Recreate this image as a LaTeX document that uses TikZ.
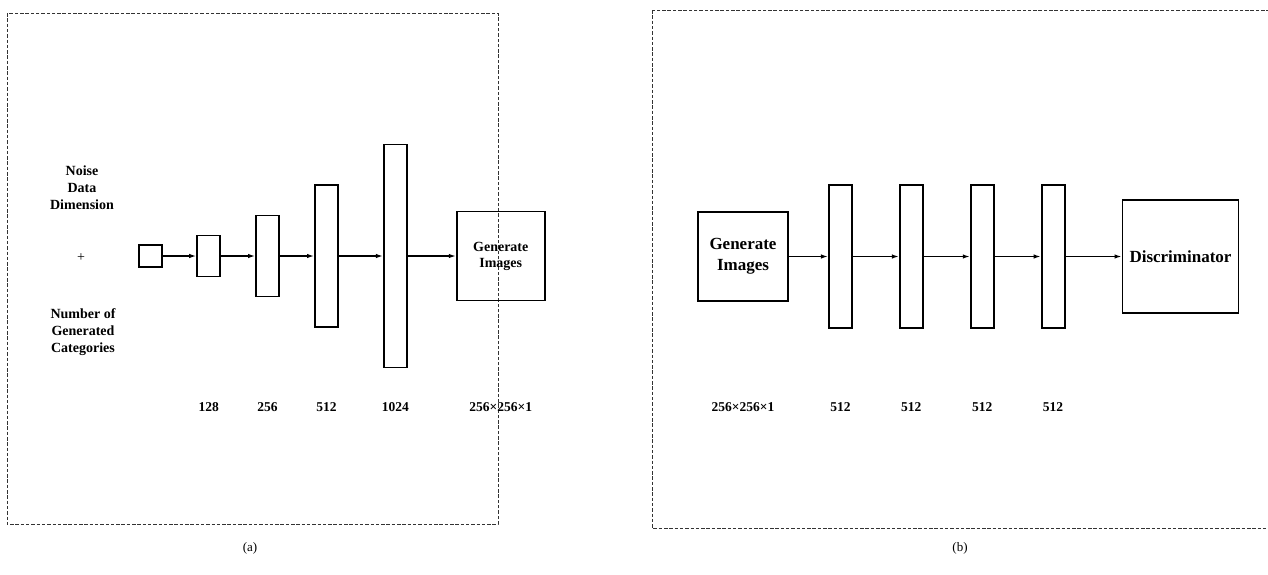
\documentclass[tikz,border=0pt]{standalone}
\usepackage{fontspec}
\setmainfont{Liberation Serif}
\usetikzlibrary{positioning, arrows.meta}
\tikzset{
    convbox/.style={draw, line width=1.9pt, minimum width=23pt, minimum height=#1, inner sep=0pt},
    imgbox/.style={draw, line width=1.9pt, align=center, inner sep=0pt, font=\fontsize{14}{16}\selectfont\bfseries},
    bigbox/.style={draw, line width=1.9pt, align=center, inner sep=0pt, font=\fontsize{17}{21}\selectfont\bfseries},
    txt/.style={align=center, font=\fontsize{14}{17}\selectfont\bfseries},
    lbl/.style={font=\fontsize{13.5}{16}\selectfont\bfseries},
    arr/.style={-{Latex[length=7pt, width=4.5pt]}, line width=1.3pt},
    frame/.style={dash pattern=on 3.5pt off 1.8pt, line width=1pt, black!80},
    subcap/.style={font=\fontsize{13}{15}\selectfont}
}
\begin{document}
\begin{tikzpicture}[x=1pt, y=1pt]
    \useasboundingbox (0,0) rectangle (1268,-574);

    % (a) generator
    \draw[frame] (7,-13) rectangle (498,-524);
    \node[txt] (noise) at (82,-188) {Noise\\Data\\Dimension};
    \node[font=\fontsize{14}{16}\selectfont] (plus) at (81,-258) {+};
    \node[txt] (ncat) at (83,-332) {Number of\\Generated\\Categories};

    \node[convbox=22pt, minimum width=23.5pt] (sq) at (150.5,-256) {};
    \node[convbox=41pt, right=33pt of sq] (g128) {};
    \node[convbox=81pt, right=34pt of g128] (g256) {};
    \node[convbox=142pt, right=34pt of g256] (g512) {};
    \node[convbox=223pt, right=44pt of g512] (g1024) {};
    \node[imgbox, minimum width=88pt, minimum height=89pt, right=48pt of g1024] (genA) {Generate\\Images};

    \draw[arr] (sq) -- (g128);
    \draw[arr] (g128) -- (g256);
    \draw[arr] (g256) -- (g512);
    \draw[arr] (g512) -- (g1024);
    \draw[arr] (g1024) -- (genA);

    \coordinate (rowA) at (0,-407);
    \node[lbl] at (g128 |- rowA) {128};
    \node[lbl] at (g256 |- rowA) {256};
    \node[lbl] at (g512 |- rowA) {512};
    \node[lbl] at (g1024 |- rowA) {1024};
    \node[lbl] at (genA |- rowA) {256×256×1};

    \node[subcap] (capa) at (250,-548) {(a)};

    % (b) discriminator
    \draw[frame] (652,-10) rectangle (1275,-528);
    \node[bigbox, minimum width=90pt, minimum height=89pt] (genB) at (743,-256.5) {Generate\\Images};
    \node[convbox=143pt, right=39pt of genB] (d1) {};
    \node[convbox=143pt, right=46pt of d1] (d2) {};
    \node[convbox=143pt, right=46pt of d2] (d3) {};
    \node[convbox=143pt, right=46pt of d3] (d4) {};
    \node[bigbox, minimum width=116pt, minimum height=113pt, right=56pt of d4] (disc) {Discriminator};

    \draw[arr] (genB) -- (d1);
    \draw[arr] (d1) -- (d2);
    \draw[arr] (d2) -- (d3);
    \draw[arr] (d3) -- (d4);
    \draw[arr] (d4) -- (disc);

    \coordinate (rowB) at (0,-407);
    \node[lbl] at (genB |- rowB) {256×256×1};
    \node[lbl] at (d1 |- rowB) {512};
    \node[lbl] at (d2 |- rowB) {512};
    \node[lbl] at (d3 |- rowB) {512};
    \node[lbl] at (d4 |- rowB) {512};

    \node[subcap] (capb) at (960,-548) {(b)};
\end{tikzpicture}
\end{document}
